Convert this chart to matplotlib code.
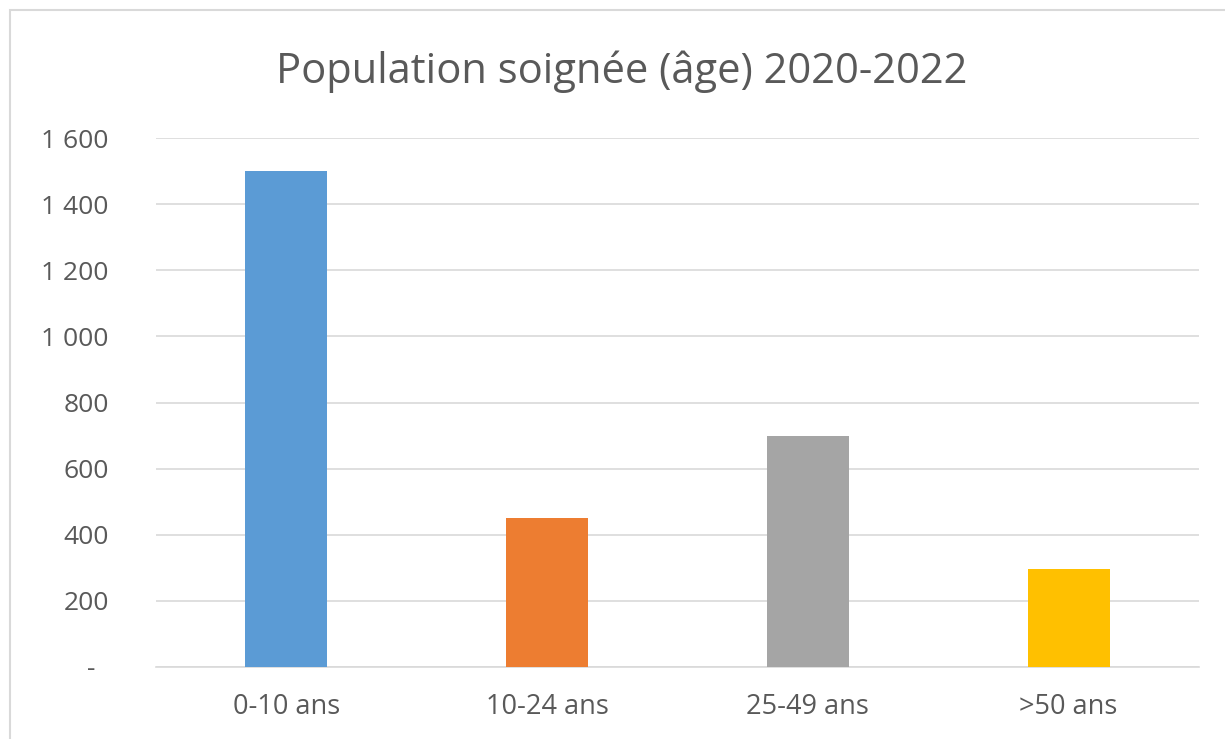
import matplotlib
matplotlib.use('Agg')
import matplotlib.pyplot as plt
from matplotlib.ticker import FuncFormatter
from matplotlib.patches import Rectangle

categories = ['0-10 ans', '10-24 ans', '25-49 ans', '>50 ans']
values = [1500, 450, 700, 295]
colors = ['#5B9BD5', '#ED7D31', '#A5A5A5', '#FFC000']
title = 'Population soignée (âge) 2020-2022'

plt.rcParams['font.family'] = ['Open Sans', 'DejaVu Sans']
grey_txt = '#595959'

fig = plt.figure(figsize=(12.25, 7.39), dpi=100)
ax = fig.add_axes([156 / 1225, 1 - 667 / 739, (1199 - 156) / 1225, (667 - 138) / 739])

x = range(len(categories))
ax.bar(x, values, width=0.315, color=colors, zorder=3)
ax.set_xlim(-0.5, len(categories) - 0.5)
ax.set_ylim(0, 1600)
ax.set_yticks(range(0, 1601, 200))


def fmt(v, pos):
    # style comptable : zéro affiché comme un tiret
    if v == 0:
        return '-  '
    return '{:,.0f}'.format(v).replace(',', ' ')


ax.yaxis.set_major_formatter(FuncFormatter(fmt))
ax.set_xticks(list(x))
ax.set_xticklabels(categories)
ax.tick_params(axis='y', length=0, pad=34, labelsize=19, labelcolor=grey_txt)
ax.tick_params(axis='x', length=0, pad=19, labelsize=19.5, labelcolor=grey_txt)
ax.grid(axis='y', color='#d9d9d9', linewidth=1.2, zorder=0)
for s in ['top', 'right', 'left']:
    ax.spines[s].set_visible(False)
ax.spines['bottom'].set_color('#d9d9d9')
ax.spines['bottom'].set_linewidth(1.2)

fig.text(622 / 1225, 1 - 72 / 739, title, ha='center', va='center',
         fontsize=30, color=grey_txt)

# chart frame (top and left edges visible, rest cut off)
fig.patches.append(Rectangle((10 / 1225, -0.1), 1.2, 1 - 10 / 739 + 0.1,
                             transform=fig.transFigure, fill=False,
                             edgecolor='#d9d9d9', linewidth=1.5, zorder=0))

fig.savefig('out.png', dpi=100)
